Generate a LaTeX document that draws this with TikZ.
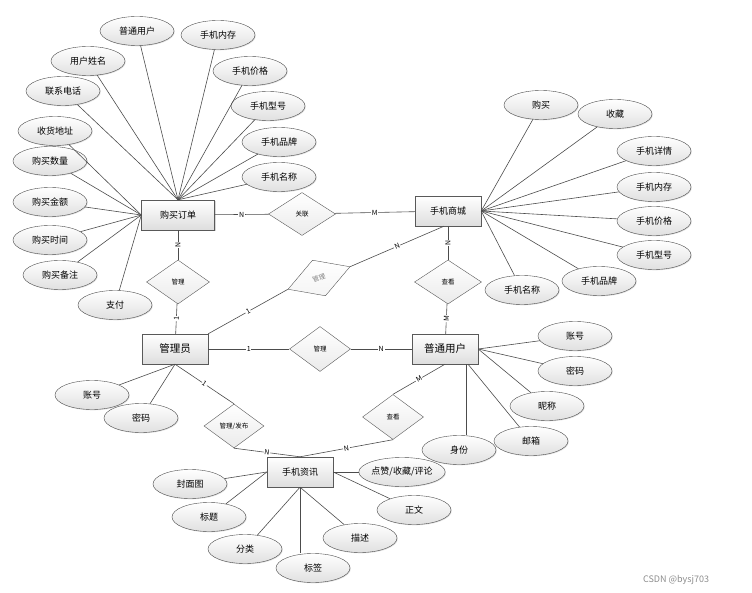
\documentclass[tikz,border=0pt]{standalone}
\usepackage{fontspec}
\setmainfont{Noto Sans CJK SC}
\usetikzlibrary{shapes,shadows}

\tikzset{
	entity/.style={draw=black!65, top color=white, bottom color=black!13, minimum width=66pt, minimum height=30pt, inner sep=0pt, font=\fontsize{9}{10}\selectfont, drop shadow={shadow xshift=1.2pt, shadow yshift=-1.2pt, fill=black!30}},
	bigentity/.style={entity, font=\fontsize{10.5}{12}\selectfont},
	attr/.style={ellipse, draw=black!70, top color=white, bottom color=black!12, minimum width=74pt, minimum height=29pt, inner sep=0pt, font=\fontsize{9}{10}\selectfont, drop shadow={shadow xshift=0.8pt, shadow yshift=-0.8pt, fill=black!25}},
	rel/.style={diamond, draw=black!65, top color=white, bottom color=black!8, minimum width=64pt, minimum height=44pt, inner sep=0pt, font=\fontsize{6.5}{7}\selectfont},
	link/.style={draw=black!70, line width=0.6pt},
	card/.style={fill=white, inner sep=0.8pt, font=\fontsize{7}{8}\selectfont}
}

\begin{document}
\begin{tikzpicture}[x=1pt, y=-1pt]
	\useasboundingbox (0, 0) rectangle (752, 593);
	\node[bigentity] (admin) at (175, 349) {管理员};
	\node[bigentity] (user) at (445, 349) {普通用户};
	\node[entity, minimum width=73pt] (order) at (178, 215) {购买订单};
	\node[entity] (mall) at (448, 211) {手机商城};
	\node[entity] (news) at (300, 472) {手机资讯};

	\node[rel, minimum width=67pt, minimum height=43pt] (assoc) at (302, 214) {关联};
	\node[rel, minimum width=63pt] (manage_order) at (178, 282) {管理};
	\node[rel, minimum width=66pt, minimum height=38pt, rotate=20, text=black!50, bottom color=black!4] (manage_mall) at (319, 278) {管理};
	\node[rel, minimum width=67pt] (view_mall) at (448, 282) {查看};
	\node[rel, minimum width=61pt, minimum height=45pt] (manage_user) at (320, 349) {管理};
	\node[rel, minimum width=60pt] (publish) at (234, 426) {管理/发布};
	\node[rel, minimum width=61pt, minimum height=45pt] (view_news) at (393, 417) {查看};

	\node[attr] (o_user) at (137, 31) {普通用户};
	\node[attr] (o_mem) at (218, 35) {手机内存};
	\node[attr] (o_name) at (88, 61) {用户姓名};
	\node[attr] (o_price) at (250, 71) {手机价格};
	\node[attr] (o_tel) at (63, 91) {联系电话};
	\node[attr] (o_model) at (268, 106) {手机型号};
	\node[attr] (o_addr) at (55, 131) {收货地址};
	\node[attr] (o_brand) at (279, 142) {手机品牌};
	\node[attr] (o_num) at (50, 161) {购买数量};
	\node[attr] (o_title) at (279, 177) {手机名称};
	\node[attr] (o_sum) at (50, 202) {购买金额};
	\node[attr] (o_time) at (50, 240) {购买时间};
	\node[attr] (o_note) at (60, 275) {购买备注};
	\node[attr] (o_pay) at (115, 305) {支付};

	\node[attr] (m_buy) at (541, 105) {购买};
	\node[attr] (m_fav) at (615, 114) {收藏};
	\node[attr] (m_detail) at (654, 151) {手机详情};
	\node[attr] (m_mem) at (654, 187) {手机内存};
	\node[attr] (m_price) at (654, 221) {手机价格};
	\node[attr] (m_model) at (654, 255) {手机型号};
	\node[attr] (m_brand) at (599, 281) {手机品牌};
	\node[attr] (m_title) at (522, 290) {手机名称};

	\node[attr] (u_acc) at (575, 336) {账号};
	\node[attr] (u_pwd) at (575, 371) {密码};
	\node[attr] (u_nick) at (547, 406) {昵称};
	\node[attr] (u_mail) at (531, 441) {邮箱};
	\node[attr] (u_id) at (459, 450) {身份};

	\node[attr] (a_acc) at (92, 395) {账号};
	\node[attr] (a_pwd) at (141, 418) {密码};

	\node[attr] (n_cover) at (190, 484) {封面图};
	\node[attr] (n_head) at (209, 517) {标题};
	\node[attr] (n_cat) at (245, 549) {分类};
	\node[attr] (n_tag) at (313, 568) {标签};
	\node[attr] (n_desc) at (360, 538) {描述};
	\node[attr] (n_body) at (414, 510) {正文};
	\node[attr] (n_like) at (402, 472) {点赞/收藏/评论};

	\path [link] (order) -- node[card] {N} (assoc);
	\path [link] (assoc) -- node[card] {M} (mall);
	\path [link] (order) -- node[card, sloped] {N} (manage_order);
	\path [link] (manage_order) -- node[card, sloped] {1} (admin);
	\path [link] (admin.north east) -- node[card, sloped] {1} (manage_mall.west);
	\path [link] (manage_mall.east) -- node[card, sloped] {N} ([xshift=-4pt]mall.south);
	\path [link] (mall) -- node[card, sloped] {N} (view_mall);
	\path [link] (view_mall) -- node[card, sloped] {M} (user);
	\path [link] (admin) -- node[card] {1} (manage_user);
	\path [link] (manage_user) -- node[card] {N} (user);
	\path [link] (admin.south) -- node[card, sloped] {1} (publish.north);
	\path [link] (publish.south) -- node[card, sloped] {N} (news.north);
	\path [link] (user.south) -- node[card, sloped] {M} (view_news.north);
	\path [link] (view_news.south) -- node[card, sloped] {N} (news.north);

	\foreach \a in {o_user, o_mem, o_name, o_price, o_tel, o_model, o_brand, o_title}
		\path [link] (order.north) -- (\a);
	\foreach \a in {o_addr, o_num, o_sum, o_time, o_note, o_pay}
		\path [link] (order.west) -- (\a);
	\foreach \a in {m_buy, m_fav, m_detail, m_mem, m_price, m_model, m_brand, m_title}
		\path [link] (mall.east) -- (\a);
	\foreach \a in {u_acc, u_pwd, u_nick}
		\path [link] (user.east) -- (\a);
	\path [link] ([xshift=23pt]user.south) -- (u_mail);
	\path [link] ([xshift=21pt]user.south) -- ([xshift=21pt]user.south |- u_id.north);
	\foreach \a in {a_acc, a_pwd}
		\path [link] (admin.south) -- (\a);
	\foreach \a in {n_cover, n_head}
		\path [link] (news.west) -- (\a);
	\foreach \a in {n_cat, n_desc}
		\path [link] (news.south) -- (\a);
	\path [link] (news.south) -- (news.south |- n_tag.north);
	\foreach \a in {n_body, n_like}
		\path [link] (news.east) -- (\a);

	\node[text=black!45, font=\fontsize{9}{10}\selectfont] (mark) at (676, 580) {CSDN @bysj703};
\end{tikzpicture}
\end{document}
